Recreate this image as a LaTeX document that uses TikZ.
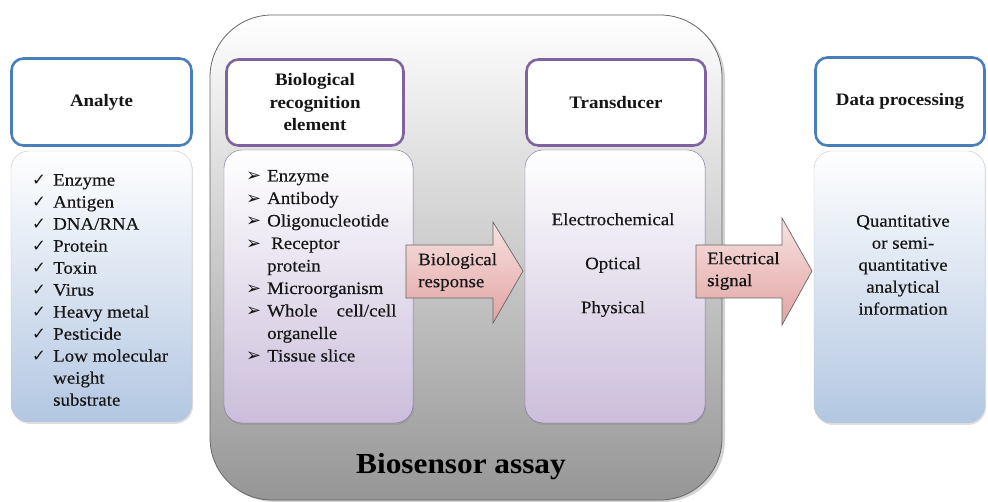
\documentclass[tikz,border=0pt]{standalone}
\usepackage{fontspec}
\setmainfont{Liberation Serif}[FakeStretch=1.08, UprightFeatures={FakeBold=0.35}]
\newfontfamily\symfont{DejaVu Sans}
\usetikzlibrary{shadows}
\definecolor{bluebd}{HTML}{4A7EBB}
\definecolor{purplebd}{HTML}{7D64A0}
\definecolor{bluefill}{HTML}{B3C7E2}
\definecolor{purplefill}{HTML}{CBBEDB}
\definecolor{pinktop}{HTML}{F7E2E1}
\definecolor{pinkbot}{HTML}{E2A3A2}
\definecolor{txt}{HTML}{161616}
\definecolor{assaybot}{HTML}{969696}
\newcommand\ck{\makebox[21pt][l]{\symfont\fontsize{16.5}{16}\selectfont ✓}}
\newcommand\ah{\makebox[21pt][l]{\raisebox{-0.5pt}{\symfont\fontsize{18}{16}\selectfont ➢}}}
\begin{document}
\begin{tikzpicture}[x=1pt,y=-1pt,
  hdr/.style={draw, line width=2.6pt, rounded corners=12pt, fill=white,
    inner sep=0pt, align=center, text=txt,
    font=\bfseries\fontsize{17.5}{22.5}\selectfont},
  bluehdr/.style={hdr, draw=bluebd},
  purphdr/.style={hdr, draw=purplebd},
  content/.style={rounded corners=18pt, inner sep=0pt, top color=white,
    drop shadow={opacity=0.25, shadow xshift=1pt, shadow yshift=-2pt}},
  bluecontent/.style={content, draw=gray!45, bottom color=bluefill},
  purpcontent/.style={content, draw=purplebd!70!gray, bottom color=purplefill},
  listtxt/.style={inner sep=0pt, align=left, text=txt,
    font=\fontsize{17.5}{22}\selectfont},
  ctrtxt/.style={inner sep=0pt, align=center, text=txt,
    font=\fontsize{17.5}{22}\selectfont},
  blockarrow/.style={draw=black!60, line width=0.7pt, top color=pinktop,
    bottom color=pinkbot}
]
\useasboundingbox (0,0) rectangle (988,502);
% outer assay box
\node[draw=gray!80!black, line width=0.8pt, rounded corners=62pt,
  top color=white, bottom color=assaybot, minimum width=512pt,
  minimum height=485pt, inner sep=0pt,
  drop shadow={opacity=0.35, shadow xshift=3pt, shadow yshift=-2pt}]
  (assay) at (466,257.5) {};
\node[inner sep=0pt, text=black, font=\bfseries\fontsize{29}{32}\selectfont]
  (assaylbl) at (461,467) {Biosensor assay};

% content boxes
\node[bluecontent, minimum width=181pt, minimum height=271pt] (anaC) at (101.5,286.5) {};
\node[purpcontent, minimum width=189pt, minimum height=273pt] (bioC) at (318.5,286.5) {};
\node[purpcontent, minimum width=180pt, minimum height=273pt] (traC) at (615,286.5) {};
\node[bluecontent, minimum width=171pt, minimum height=272pt] (datC) at (899.5,287) {};

% headers
\node[bluehdr, minimum width=180pt, minimum height=87pt] (anaH) at (101.5,102) {Analyte};
\node[purphdr, minimum width=177pt, minimum height=86pt] (bioH) at (315,102.5)
  {Biological\\recognition\\element};
\node[purphdr, minimum width=179pt, minimum height=86pt] (traH) at (616,102.5) {Transducer};
\node[bluehdr, minimum width=169pt, minimum height=88pt] (datH) at (900,101.5) {Data processing};

% lists
\node[listtxt, anchor=west] (anaL) at (32,290) {\ck Enzyme\\ \ck Antigen\\ \ck DNA/RNA\\
  \ck Protein\\ \ck Toxin\\ \ck Virus\\ \ck Heavy metal\\ \ck Pesticide\\
  \ck Low molecular\\ \hspace*{21pt}weight\\ \hspace*{21pt}substrate};
\node[listtxt, anchor=west, font=\fontsize{17.5}{22.5}\selectfont] (bioL) at (246,266)
  {\ah Enzyme\\ \ah Antibody\\ \ah Oligonucleotide\\ \ah\hspace{4pt}Receptor\\
  \hspace*{21pt}protein\\ \ah Microorganism\\ \ah Whole\hspace{19pt}cell/cell\\
  \hspace*{21pt}organelle\\ \ah Tissue slice};
\node[ctrtxt, font=\fontsize{17.5}{44}\selectfont] (traL) at (613,265)
  {Electrochemical\\Optical\\Physical};
\node[ctrtxt] (datL) at (903,265)
  {Quantitative\\or semi-\\quantitative\\analytical\\information};

% block arrows
\path[blockarrow] (406,245) -- (493,245) -- (493,222) -- (523,271)
  -- (493,323) -- (493,298) -- (406,298) -- cycle;
\node[listtxt, anchor=west] (resp) at (418,272) {Biological\\response};
\path[blockarrow] (696,245) -- (782,245) -- (782,218) -- (812,271)
  -- (782,325) -- (782,298) -- (696,298) -- cycle;
\node[listtxt, anchor=west] (sig) at (707,271) {Electrical\\signal};
\end{tikzpicture}
\end{document}
